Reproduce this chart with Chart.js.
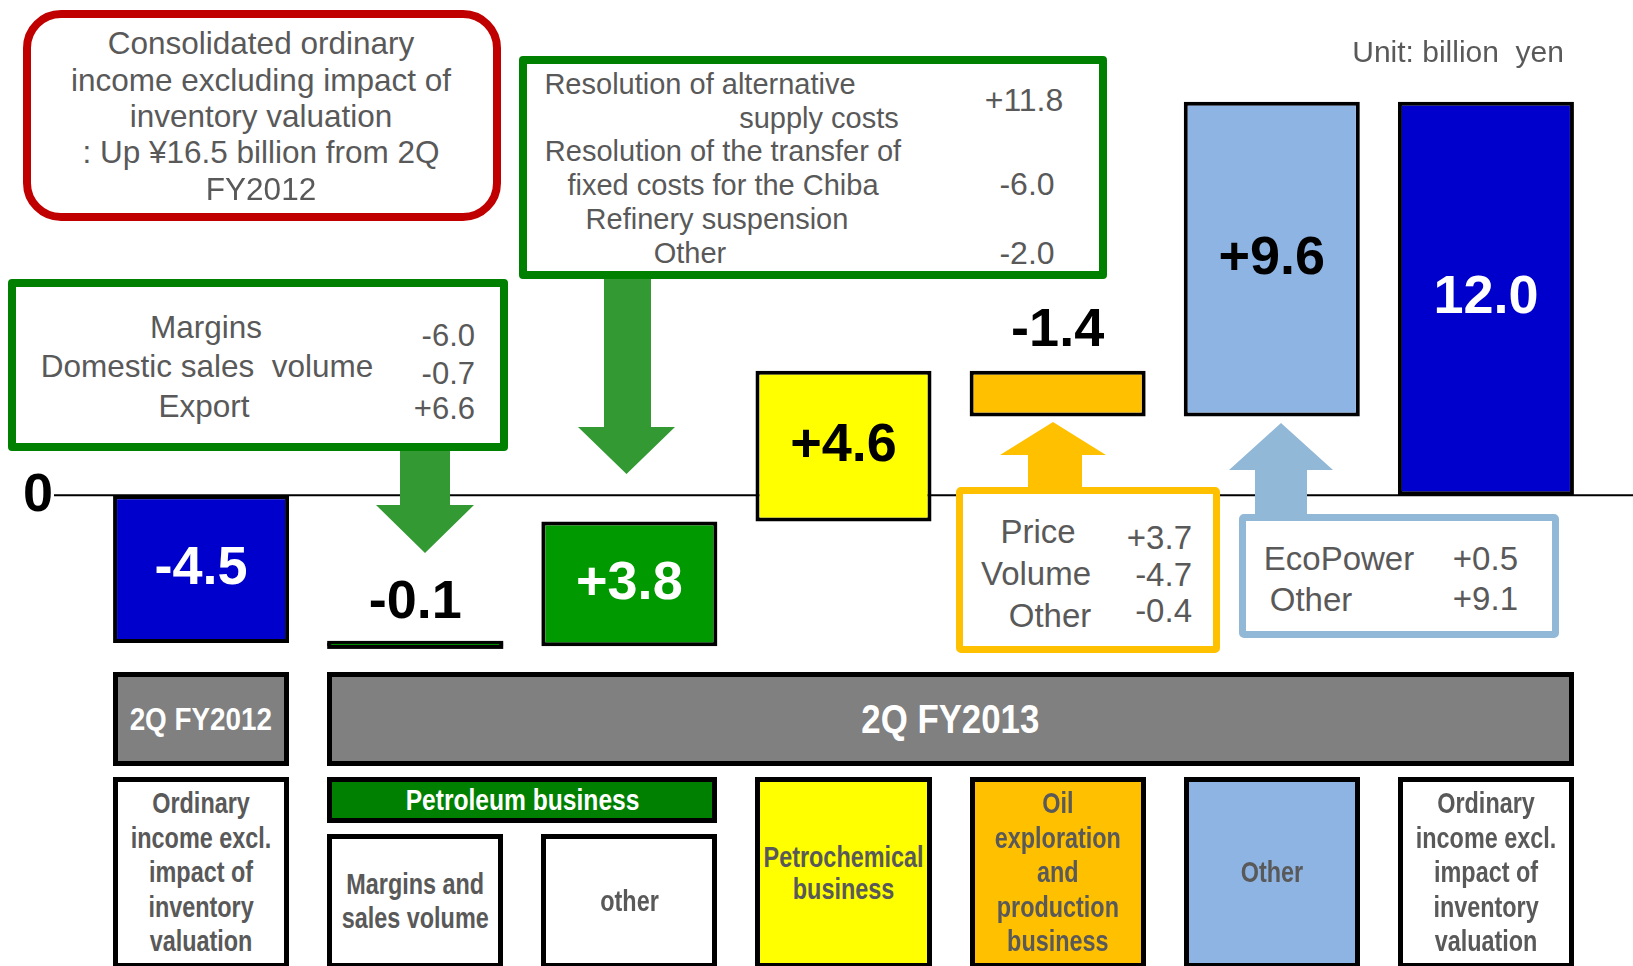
<!DOCTYPE html>
<html>
<head>
<meta charset="utf-8">
<script src="https://cdn.jsdelivr.net/npm/chart.js@4.4.0/dist/chart.umd.min.js"></script>
<style>
  html, body { margin: 0; padding: 0; background: #fff; }
  #wrap { position: relative; width: 1633px; height: 966px; overflow: hidden; }
  #chart { position: absolute; left: 0; top: 0; }
  .box { position: absolute; box-sizing: border-box; background: #fff; }
  .txt { position: absolute; font-family: 'Liberation Sans', Arial, sans-serif; color: #595959; white-space: pre; line-height: 1; }
  .cat { position: absolute; box-sizing: border-box; border: 5px solid #000; display: flex; align-items: center; justify-content: center; text-align: center; font-family: 'Liberation Sans', Arial, sans-serif; font-weight: bold; color: #595959; overflow: visible; }
  .cat span { display: inline-block; white-space: pre; }
</style>
</head>
<body>
<div id="wrap">
  <canvas id="chart" width="1633" height="966"></canvas>
</div>
<script>
// waterfall data (billion yen)
const categories = [
  'Ordinary\nincome excl.\nimpact of\ninventory\nvaluation',
  'Margins and\nsales volume',
  'other',
  'Petrochemical\nbusiness',
  'Oil\nexploration\nand\nproduction\nbusiness',
  'Other',
  'Ordinary\nincome excl.\nimpact of\ninventory\nvaluation'
];
const changes = [-4.5, -0.1, 3.8, 4.6, -1.4, 9.6, 12.0];
const valueLabels = ['-4.5', '-0.1', '+3.8', '+4.6', '-1.4', '+9.6', '12.0'];
const periods = ['2Q FY2012', '2Q FY2013'];
const segmentGroup = 'Petroleum business';
const zeroLabel = '0';
const unitLabel = 'Unit: billion  yen';

// breakdown notes
const summaryLines = ['Consolidated ordinary', 'income excluding impact of', 'inventory valuation', ': Up \u00a516.5 billion from 2Q', 'FY2012'];
const marginItems = ['Margins', 'Domestic sales  volume', 'Export'];
const marginValues = ['-6.0', '-0.7', '+6.6'];
const petroOtherItems = ['Resolution of alternative', 'supply costs', 'Resolution of the transfer of', 'fixed costs for the Chiba', 'Refinery suspension', 'Other'];
const petroOtherValues = ['+11.8', '-6.0', '-2.0'];
const oilItems = ['Price', 'Volume', 'Other'];
const oilValues = ['+3.7', '-4.7', '-0.4'];
const otherItems = ['EcoPower', 'Other'];
const otherValues = ['+0.5', '+9.1'];

// styles
const barColors = ['#0000CC', '#009900', '#009900', '#FFFF00', '#FFC000', '#8EB4E3', '#0000CC'];
const labelColors = ['#fff', '#000', '#fff', '#000', '#000', '#000', '#fff'];
const labelInside = [true, false, true, true, false, true, true];

// floating ranges: first and last are totals from zero
let running = 0;
const ranges = changes.map((v, i) => {
  if (i === 0 || i === changes.length - 1) {
    running = v;
    return [0, v];
  }
  const r = [running, Math.round((running + v) * 10) / 10];
  running = r[1];
  return r;
});

function arrow(ctx, color, sx1, sx2, sy1, sy2, hx1, hx2, tipY) {
  const mid = (hx1 + hx2) / 2;
  ctx.fillStyle = color;
  ctx.beginPath();
  ctx.moveTo(sx1, sy1);
  ctx.lineTo(sx2, sy1);
  ctx.lineTo(sx2, sy2);
  ctx.lineTo(hx2, sy2);
  ctx.lineTo(mid, tipY);
  ctx.lineTo(hx1, sy2);
  ctx.lineTo(sx1, sy2);
  ctx.closePath();
  ctx.fill();
}

const decor = {
  id: 'decor',
  beforeDatasetsDraw(chart) {
    const ctx = chart.ctx;
    const y0 = chart.scales.y.getPixelForValue(0);
    ctx.save();
    ctx.strokeStyle = '#000';
    ctx.lineWidth = 2;
    ctx.beginPath();
    ctx.moveTo(54, y0);
    ctx.lineTo(chart.width, y0);
    ctx.stroke();
    ctx.fillStyle = '#000';
    ctx.font = 'bold 54px "Liberation Sans", Arial, sans-serif';
    ctx.textAlign = 'center';
    ctx.textBaseline = 'middle';
    ctx.fillText(zeroLabel, 38, y0 + 1);
    ctx.restore();
  },
  afterDatasetsDraw(chart) {
    const ctx = chart.ctx;
    ctx.save();
    ctx.font = 'bold 54px "Liberation Sans", Arial, sans-serif';
    ctx.textAlign = 'center';
    ctx.textBaseline = 'middle';
    chart.getDatasetMeta(0).data.forEach((bar, i) => {
      const top = Math.min(bar.y, bar.base);
      const y = labelInside[i] ? (bar.y + bar.base) / 2 : top - 40;
      ctx.fillStyle = labelColors[i];
      ctx.fillText(valueLabels[i], bar.x, y);
      // the tiny -0.1 bar reads as a thick rule in the original
      if (!labelInside[i] && Math.abs(bar.y - bar.base) < 6) {
        ctx.fillStyle = '#000';
        ctx.fillRect(bar.x - bar.width / 2, top - 2, bar.width, 8);
        ctx.fillStyle = barColors[i];
        ctx.fillRect(bar.x - bar.width / 2 + 4, top + 1, bar.width - 8, 1);
      }
    });
    ctx.restore();
  },
  afterDraw(chart) {
    const ctx = chart.ctx;
    ctx.save();
    // arrows from the breakdown boxes to their bars
    arrow(ctx, '#339933', 400, 450, 451, 505, 376, 474, 553);
    arrow(ctx, '#339933', 604, 651, 279, 427, 578, 675, 474);
    arrow(ctx, '#FFC000', 1028, 1082, 487, 455, 1000, 1106, 422);
    arrow(ctx, '#92B8D8', 1255, 1307, 514, 470, 1229, 1333, 423);
    ctx.restore();
  }
};

const chart = new Chart(document.getElementById('chart'), {
  type: 'bar',
  data: {
    labels: categories,
    datasets: [{
      data: ranges,
      backgroundColor: barColors,
      borderColor: '#000',
      borderWidth: 4,
      borderSkipped: false,
      barPercentage: 1,
      categoryPercentage: 0.822
    }]
  },
  options: {
    responsive: false,
    animation: false,
    layout: { padding: { left: 94, right: 40, top: 0, bottom: 0 } },
    plugins: { legend: { display: false }, tooltip: { enabled: false } },
    scales: {
      x: { display: false, offset: true },
      y: { display: false, min: -14.35, max: 15.1 }
    }
  },
  plugins: [decor]
});

const wrap = document.getElementById('wrap');

function addText(str, x, y, size, align) {
  const el = document.createElement('div');
  el.className = 'txt';
  el.textContent = str;
  el.style.left = x + 'px';
  el.style.top = y + 'px';
  el.style.fontSize = size + 'px';
  const tx = align === 'center' ? '-50%' : align === 'right' ? '-100%' : '0';
  el.style.transform = 'translate(' + tx + ', -50%)';
  wrap.appendChild(el);
}

function addBox(l, t, w, h, color, bw, radius) {
  const el = document.createElement('div');
  el.className = 'box';
  el.style.left = l + 'px';
  el.style.top = t + 'px';
  el.style.width = w + 'px';
  el.style.height = h + 'px';
  el.style.border = bw + 'px solid ' + color;
  el.style.borderRadius = radius + 'px';
  wrap.appendChild(el);
}

function addCat(l, r, t, b, fill, text, size, color, lh, squeeze) {
  const el = document.createElement('div');
  el.className = 'cat';
  el.style.left = l + 'px';
  el.style.top = t + 'px';
  el.style.width = (r - l) + 'px';
  el.style.height = (b - t) + 'px';
  el.style.background = fill;
  const span = document.createElement('span');
  span.style.fontSize = size + 'px';
  span.style.lineHeight = lh + 'px';
  span.style.color = color;
  span.style.transform = 'scaleX(' + squeeze + ')';
  span.textContent = text;
  el.appendChild(span);
  wrap.appendChild(el);
}

// summary box and unit
addBox(23, 10, 478, 211, '#C00000', 8, 38);
[43.7, 81.2, 116.6, 153.1, 189.6].forEach((y, i) => addText(summaryLines[i], 261, y, 31.5, 'center'));
addText(unitLabel, 1564, 52, 30, 'right');

// petroleum "other" breakdown
addBox(519, 56, 588, 223, '#008000', 8, 4);
const petroX = [700, 819, 723, 723, 717, 690];
const petroY = [84.4, 117.7, 151, 185.4, 218.7, 253];
petroOtherItems.forEach((s, i) => addText(s, petroX[i], petroY[i], 29, 'center'));
[[1024, 100], [1027, 184.3], [1027, 253]].forEach((p, i) => addText(petroOtherValues[i], p[0], p[1], 32, 'center'));

// margins breakdown
addBox(8, 279, 500, 172, '#008000', 8, 4);
[[206, 328], [207, 366.6], [204, 407.2]].forEach((p, i) => addText(marginItems[i], p[0], p[1], 31.5, 'center'));
[335.3, 372.8, 408.2].forEach((y, i) => addText(marginValues[i], 475, y, 31, 'right'));

// oil exploration breakdown
addBox(956, 487, 264, 166, '#FFC000', 7, 5);
[[1038, 531], [1036, 572.8], [1050, 614.5]].forEach((p, i) => addText(oilItems[i], p[0], p[1], 33, 'center'));
[537.4, 573.8, 610.3].forEach((y, i) => addText(oilValues[i], 1192, y, 33, 'right'));

// other breakdown
addBox(1239, 514, 320, 124, '#92B8D8', 7, 5);
[[1339, 558.2], [1311, 598.8]].forEach((p, i) => addText(otherItems[i], p[0], p[1], 33, 'center'));
[558.2, 597.8].forEach((y, i) => addText(otherValues[i], 1518, y, 33, 'right'));

// category boxes under the bars
const bars = chart.getDatasetMeta(0).data.map(b => ({ l: b.x - b.width / 2, r: b.x + b.width / 2 }));
addCat(bars[0].l, bars[0].r, 672, 766, '#808080', periods[0], 32, '#fff', 34, 0.87);
addCat(bars[1].l, bars[6].r, 672, 766, '#808080', periods[1], 40, '#fff', 44, 0.87);
addCat(bars[1].l, bars[2].r, 777, 823, '#008000', segmentGroup, 30, '#fff', 34, 0.82);
const catFills = ['#fff', '#fff', '#fff', '#FFFF00', '#FFC000', '#8EB4E3', '#fff'];
categories.forEach((c, i) => {
  const top = (i === 1 || i === 2) ? 834 : 777;
  addCat(bars[i].l, bars[i].r, top, 968, catFills[i], c, 30, '#595959', i === 3 ? 32 : 34.5, 0.78);
});
</script>
</body>
</html>
